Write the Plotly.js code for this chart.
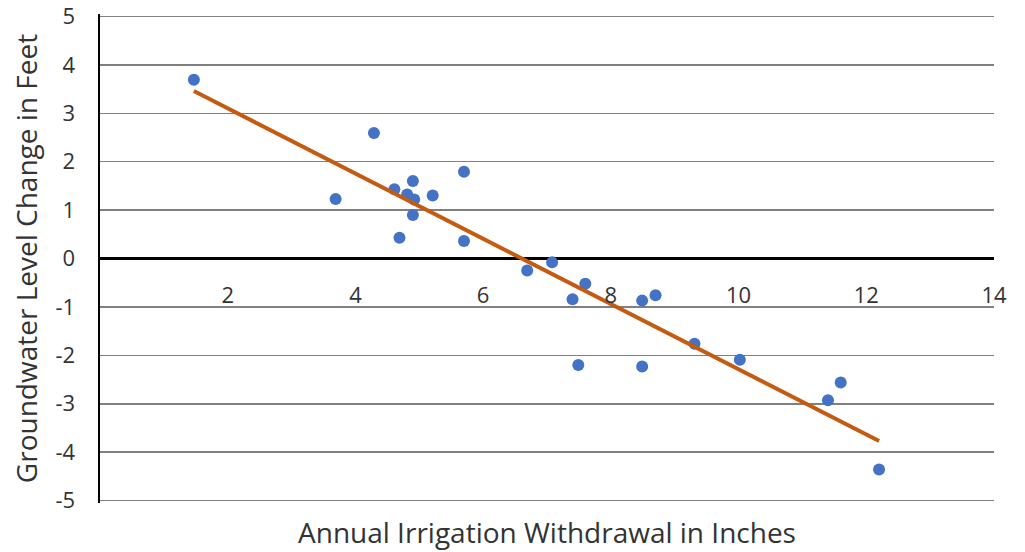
<!DOCTYPE html>
<html>
<head>
<meta charset="utf-8">
<script src="https://cdn.plot.ly/plotly-3.0.1.min.js"></script>
<style>
html,body{margin:0;padding:0;background:#fff;}
#chart{width:1025px;height:552px;}
</style>
</head>
<body>
<div id="chart"></div>
<script>
const irrigation = [1.47, 3.69, 4.29, 4.61, 4.69, 4.81, 4.90, 4.92, 4.90, 5.21, 5.70, 5.70, 6.69, 7.08, 7.40, 7.60, 7.49, 8.49, 8.70, 8.49, 9.31, 10.02, 11.40, 11.60, 12.20];
const levelChange = [3.69, 1.23, 2.59, 1.43, 0.43, 1.32, 1.60, 1.22, 0.90, 1.30, 1.79, 0.36, -0.25, -0.08, -0.84, -0.52, -2.20, -0.87, -0.76, -2.23, -1.76, -2.09, -2.93, -2.56, -4.36];
const trendX = [1.47, 12.20];
const trendY = [3.46, -3.77];
const xTickVals = [2, 4, 6, 8, 10, 12, 14];
const yTickVals = [-5, -4, -3, -2, -1, 0, 1, 2, 3, 4, 5];
const xTitle = "Annual Irrigation Withdrawal in Inches";
const yTitle = "Groundwater Level Change in Feet";

const font = "Open Sans, Noto Sans, sans-serif";
const textColor = "#333333";

const traces = [
  {
    x: irrigation, y: levelChange, type: "scatter", mode: "markers",
    marker: {color: "#4472C4", size: 12},
    hoverinfo: "x+y", showlegend: false
  },
  {
    x: trendX, y: trendY, type: "scatter", mode: "lines",
    line: {color: "#C55A11", width: 4},
    hoverinfo: "skip", showlegend: false
  }
];

const layout = {
  width: 1025, height: 552,
  margin: {l: 100, r: 31, t: 14, b: 49},
  paper_bgcolor: "#fff", plot_bgcolor: "#fff",
  font: {family: font, color: textColor, size: 22},
  xaxis: {
    range: [0, 14], tickvals: xTickVals, ticktext: xTickVals.map(String),
    showgrid: false, zeroline: false, showline: false, ticks: "",
    anchor: "free", position: 0.5,
    ticklabelstandoff: 21,
    tickfont: {family: font, size: 22, color: textColor}
  },
  yaxis: {
    range: [-5.05, 5.05], tickvals: yTickVals, ticktext: yTickVals.map(String),
    showgrid: true, gridcolor: "#808080", gridwidth: 1.5,
    zeroline: true, zerolinecolor: "#000", zerolinewidth: 3,
    showline: true, linecolor: "#000", linewidth: 2.5, ticks: "",
    ticklabelstandoff: 18,
    tickfont: {family: font, size: 22, color: textColor},
    title: {text: yTitle, font: {family: font, size: 28, color: textColor}, standoff: 10}
  },
  annotations: [
    {
      text: xTitle, xref: "paper", yref: "paper", x: 0.5, y: 0,
      xanchor: "center", yanchor: "middle", yshift: -29, showarrow: false,
      font: {family: font, size: 28, color: textColor}
    }
  ]
};

Plotly.newPlot("chart", traces, layout, {displayModeBar: false, staticPlot: true});
</script>
</body>
</html>
